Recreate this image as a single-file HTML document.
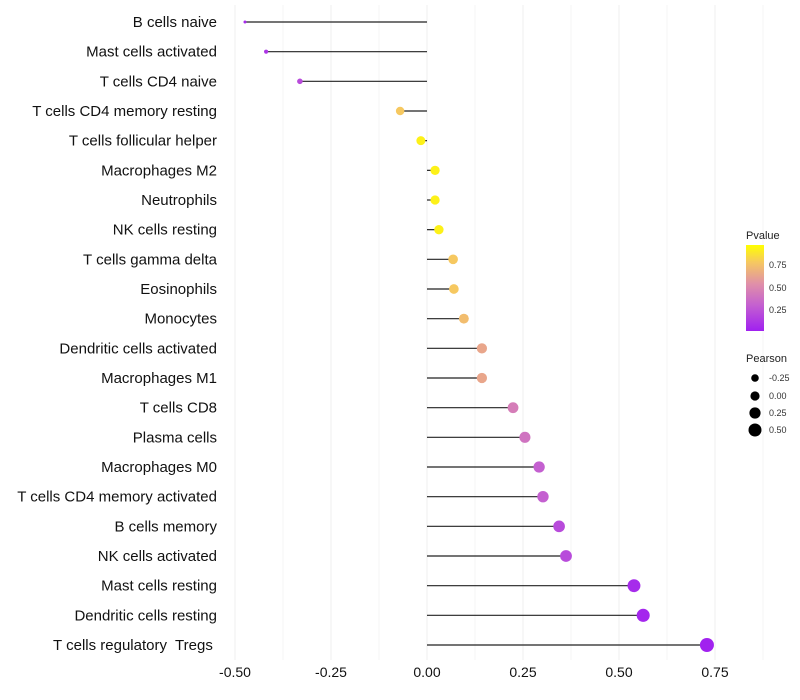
<!DOCTYPE html>
<html><head><meta charset="utf-8"><style>
html,body{margin:0;padding:0;background:#fff;}
svg{display:block;font-family:"Liberation Sans",sans-serif;}
text{white-space:pre;}
</style></head><body>
<svg id="chart" width="800" height="700" viewBox="0 0 800 700">
<defs><linearGradient id="pg" x1="0" y1="1" x2="0" y2="0">
<stop offset="0" stop-color="#a020f0"/><stop offset="0.3" stop-color="#c460d0"/><stop offset="0.55" stop-color="#e090a8"/><stop offset="0.8" stop-color="#f6c860"/><stop offset="1" stop-color="#ffff00"/></linearGradient></defs>
<g id="grid"></g>
<g id="marks"></g>
<g id="ylabels"></g>
<g id="xlabels"></g>
<g>
<text x="746" y="239" font-size="11" fill="#222">Pvalue</text>
<rect x="746" y="245" width="18" height="86" fill="url(#pg)"/>
<text x="769" y="268" font-size="9" fill="#333">0.75</text>
<text x="769" y="291" font-size="9" fill="#333">0.50</text>
<text x="769" y="313" font-size="9" fill="#333">0.25</text>
</g>
<g>
<text x="746" y="362" font-size="11" fill="#222">Pearson</text>
<circle cx="755" cy="378" r="3.8" fill="#000"/><text x="769" y="381" font-size="9" fill="#333">-0.25</text>
<circle cx="755" cy="396" r="4.6" fill="#000"/><text x="769" y="399" font-size="9" fill="#333">0.00</text>
<circle cx="755" cy="413" r="5.6" fill="#000"/><text x="769" y="416" font-size="9" fill="#333">0.25</text>
<circle cx="755" cy="430" r="6.5" fill="#000"/><text x="769" y="433" font-size="9" fill="#333">0.50</text>
</g>
</svg>
<script>
const cells=["B cells naive","Mast cells activated","T cells CD4 naive","T cells CD4 memory resting","T cells follicular helper","Macrophages M2","Neutrophils","NK cells resting","T cells gamma delta","Eosinophils","Monocytes","Dendritic cells activated","Macrophages M1","T cells CD8","Plasma cells","Macrophages M0","T cells CD4 memory activated","B cells memory","NK cells activated","Mast cells resting","Dendritic cells resting","T cells regulatory  Tregs "];
const pearson=[-0.474,-0.419,-0.331,-0.07,-0.016,0.021,0.021,0.031,0.068,0.07,0.096,0.143,0.143,0.224,0.255,0.292,0.302,0.344,0.362,0.539,0.563,0.729];
const pvalue=[0.05,0.1,0.2,0.8,0.95,0.95,0.95,0.95,0.8,0.8,0.75,0.65,0.65,0.45,0.4,0.3,0.3,0.2,0.2,0.05,0.03,0.01];
const xTicks=[-0.5,-0.25,0,0.25,0.5,0.75];
const xTickLabels=["-0.50","-0.25","0.00","0.25","0.50","0.75"];
const NS="http://www.w3.org/2000/svg";
const x=v=>427+v*384;
const y=i=>22+i*(623/21);
function col(p){const s=[[0,[160,32,240]],[0.3,[196,96,208]],[0.55,[224,144,168]],[0.8,[246,200,96]],[1,[255,255,0]]];
for(let k=1;k<s.length;k++){if(p<=s[k][0]){const t=(p-s[k-1][0])/(s[k][0]-s[k-1][0]);const a=s[k-1][1],b=s[k][1];return `rgb(${a.map((c,j)=>Math.round(c+(b[j]-c)*t)).join(",")})`;}}return "rgb(255,255,0)";}
const r=v=>Math.sqrt(Math.max(1,2.25+38.9*(v+0.474)));
function mk(tag,at,parent){const e=document.createElementNS(NS,tag);for(const k in at)e.setAttribute(k,at[k]);parent.appendChild(e);return e;}
const grid=document.getElementById('grid');
for(let v=-0.5;v<=0.875;v+=0.125){const g=mk('line',{x1:x(v),x2:x(v),y1:5,y2:660,stroke:'#efefef','stroke-width':Math.abs(v*4-Math.round(v*4))<1e-6?1:0.6},grid);

}
const marks=document.getElementById('marks'),yl=document.getElementById('ylabels'),xl=document.getElementById('xlabels');
cells.forEach((c,i)=>{
const l=mk('line',{x1:x(0),x2:x(pearson[i]),y1:y(i),y2:y(i),stroke:'#222','stroke-width':1.2},marks);


const d=mk('circle',{cx:x(pearson[i]),cy:y(i),r:r(pearson[i]),fill:col(pvalue[i])},marks);


const t=mk('text',{x:217,y:y(i)+5,'text-anchor':'end','font-size':15,fill:'#111'},yl);
t.textContent=c;


});
xTicks.forEach((v,i)=>{const t=mk('text',{x:x(v),y:677,'text-anchor':'middle','font-size':14,fill:'#111'},xl);
t.textContent=xTickLabels[i];

});
</script>
</body></html>
